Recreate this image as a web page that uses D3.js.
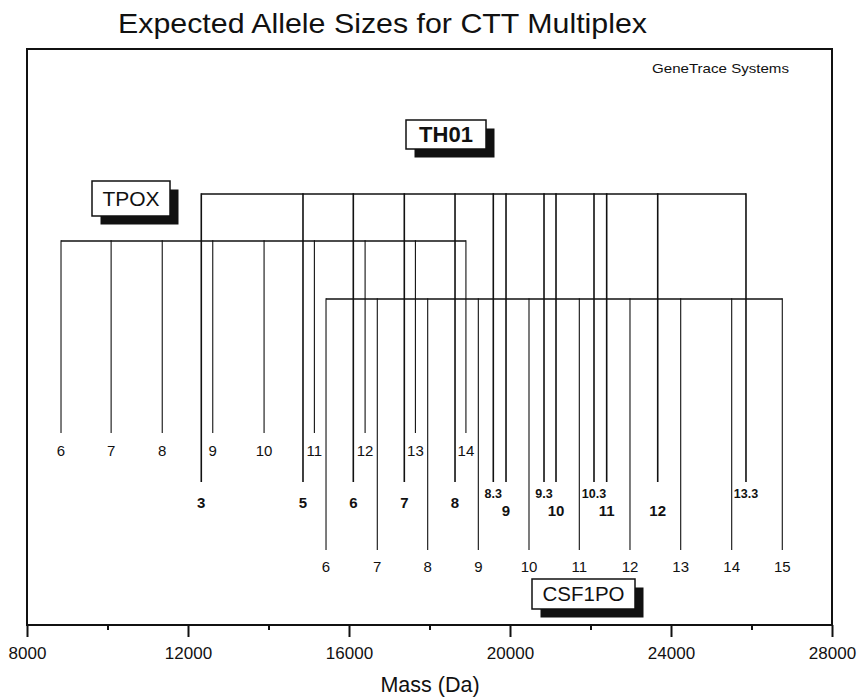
<!DOCTYPE html>
<html>
<head>
<meta charset="utf-8">
<title>Expected Allele Sizes for CTT Multiplex</title>
<script src="https://cdn.jsdelivr.net/npm/d3@7"></script>
<style>
  body { margin: 0; background: #fff; }
  svg { display: block; font-family: 'Liberation Sans', Arial, Helvetica, sans-serif; }
</style>
</head>
<body>
<div class="vis"></div>
<script>
'use strict';

// x axis ticks (mass in Da)
var majorTicks = [8000, 12000, 16000, 20000, 24000, 28000];
var minorTicks = [10000, 14000, 18000, 22000, 26000];

// TPOX alleles and their expected masses (Da)
var tpoxAlleles = ['6', '7', '8', '9', '10', '11', '12', '13', '14'];
var tpoxMasses = [8845, 10090, 11360, 12615, 13890, 15140, 16400, 17650, 18905];

// TH01 alleles and their expected masses (Da)
var th01Alleles = ['3', '5', '6', '7', '8', '8.3', '9', '9.3', '10', '10.3', '11', '12', '13.3'];
var th01Masses = [12330, 14857, 16107, 17374, 18634, 19585, 19901, 20845, 21143, 22087, 22402, 23670, 25863];

// CSF1PO alleles and their expected masses (Da)
var csf1poAlleles = ['6', '7', '8', '9', '10', '11', '12', '13', '14', '15'];
var csf1poMasses = [15429, 16703, 17955, 19213, 20472, 21722, 22981, 24241, 25508, 26765];

(function ( window, document, undefined ) {

  visualize();

  /**
   * Pairs allele names with masses.
   *
   * @param {array} alleles allele labels
   * @param {array} masses masses in Da
   * @return {array} allele objects
   */
  function zipAlleles( alleles, masses ) {
    return alleles.map(function( a, i ) {
      return { allele: a, mass: masses[i], fractional: a.indexOf('.') > -1 };
    });
  }

  function visualize() {
    var width = 857;
    var height = 699;

    // plot frame
    var frame = { left: 27, right: 832, top: 49, bottom: 625 };

    var ink = '#111';

    var x = d3.scaleLinear()
      .domain( [8000, 28000] )
      .range( [frame.left, frame.right] );

    var svg = d3.select('.vis')
      .append('svg')
      .attr('width', width)
      .attr('height', height);

    // title
    svg.append('text')
      .attr('x', 118)
      .attr('y', 33)
      .attr('font-size', 28)
      .attr('textLength', 529)
      .attr('lengthAdjust', 'spacingAndGlyphs')
      .attr('fill', ink)
      .text('Expected Allele Sizes for CTT Multiplex');

    svg.append('text')
      .attr('x', 652)
      .attr('y', 73)
      .attr('font-size', 13)
      .attr('textLength', 137)
      .attr('lengthAdjust', 'spacingAndGlyphs')
      .attr('fill', ink)
      .text('GeneTrace Systems');

    // axes
    var axisG = svg.append('g')
      .attr('transform', 'translate(0,' + frame.bottom + ')');

    axisG.call( d3.axisBottom( x )
      .tickValues( majorTicks )
      .tickFormat( d3.format('d') )
      .tickSize( 12 )
      .tickSizeOuter( 0 )
      .tickPadding( 10 ) );

    axisG.append('g').call( d3.axisBottom( x )
      .tickValues( minorTicks )
      .tickFormat('')
      .tickSize( 5 )
      .tickSizeOuter( 0 ) );

    axisG.selectAll('.domain').remove();
    axisG.selectAll('line').attr('stroke', ink).attr('stroke-width', 2);
    axisG.selectAll('text')
      .attr('font-size', 17)
      .attr('font-family', "'Liberation Sans', Arial, sans-serif")
      .attr('fill', ink);

    svg.append('text')
      .attr('x', 430)
      .attr('y', 692)
      .attr('text-anchor', 'middle')
      .attr('font-size', 21.5)
      .attr('fill', ink)
      .text('Mass (Da)');

    // frame
    svg.append('rect')
      .attr('x', frame.left)
      .attr('y', frame.top)
      .attr('width', frame.right - frame.left)
      .attr('height', frame.bottom - frame.top)
      .attr('fill', 'none')
      .attr('stroke', ink)
      .attr('stroke-width', 2);

    // loci: bracket height, line end, label rows
    drawLocus( zipAlleles( tpoxAlleles, tpoxMasses ), {
      top: 241, end: 433, labelY: function() { return 456; },
      width: 1.1, weight: 'normal', size: 15
    });

    var th01 = zipAlleles( th01Alleles, th01Masses );
    var firstFraction = d3.min( th01.filter(function(d) { return d.fractional; }), function(d) { return d.mass; } );

    drawLocus( th01, {
      top: 194, end: 482,
      labelY: function(d) {
        if ( d.fractional ) { return 498; }
        return d.mass > firstFraction ? 516 : 508;
      },
      width: 1.6, weight: 'bold', size: function(d) { return d.fractional ? 12.5 : 15; }
    });

    drawLocus( zipAlleles( csf1poAlleles, csf1poMasses ), {
      top: 299, end: 550, labelY: function() { return 572; },
      width: 1.1, weight: 'normal', size: 15
    });

    // locus tags with drop shadow
    drawTag( 'TPOX', 92, 181, 78, 35, 'normal', 21 );
    drawTag( 'TH01', 406, 120, 80, 29, 'bold', 22 );
    drawTag( 'CSF1PO', 532, 579, 103, 30, 'normal', 20.5 );

    /**
     * Draws the bracket, one vertical line per allele and the allele labels.
     */
    function drawLocus( data, opt ) {
      var g = svg.append('g');
      var ext = d3.extent( data, function(d) { return d.mass; } );

      g.append('line')
        .attr('x1', x( ext[0] ))
        .attr('x2', x( ext[1] ))
        .attr('y1', opt.top)
        .attr('y2', opt.top)
        .attr('stroke', ink)
        .attr('stroke-width', 1.4);

      g.selectAll('line.allele')
        .data( data )
        .enter()
        .append('line')
        .attr('class', 'allele')
        .attr('x1', function(d) { return x( d.mass ); })
        .attr('x2', function(d) { return x( d.mass ); })
        .attr('y1', opt.top - 0.7)
        .attr('y2', opt.end)
        .attr('stroke', ink)
        .attr('stroke-width', opt.width);

      g.selectAll('text')
        .data( data )
        .enter()
        .append('text')
        .attr('x', function(d) { return x( d.mass ); })
        .attr('y', opt.labelY)
        .attr('text-anchor', 'middle')
        .attr('font-size', opt.size)
        .attr('font-weight', opt.weight)
        .attr('fill', ink)
        .text(function(d) { return d.allele; });
    }

    /**
     * Boxed locus name with a solid shadow offset to the lower right.
     */
    function drawTag( name, bx, by, bw, bh, weight, size ) {
      var g = svg.append('g');
      var off = 8.5;

      g.append('rect')
        .attr('x', bx + off)
        .attr('y', by + off)
        .attr('width', bw)
        .attr('height', bh)
        .attr('fill', ink);

      g.append('rect')
        .attr('x', bx)
        .attr('y', by)
        .attr('width', bw)
        .attr('height', bh)
        .attr('fill', '#fff')
        .attr('stroke', ink)
        .attr('stroke-width', 1.5);

      g.append('text')
        .attr('x', bx + bw / 2)
        .attr('y', by + bh / 2)
        .attr('dy', '0.36em')
        .attr('text-anchor', 'middle')
        .attr('font-size', size)
        .attr('font-weight', weight)
        .attr('fill', ink)
        .text( name );
    }
  }

})( this, document );
</script>
</body>
</html>
